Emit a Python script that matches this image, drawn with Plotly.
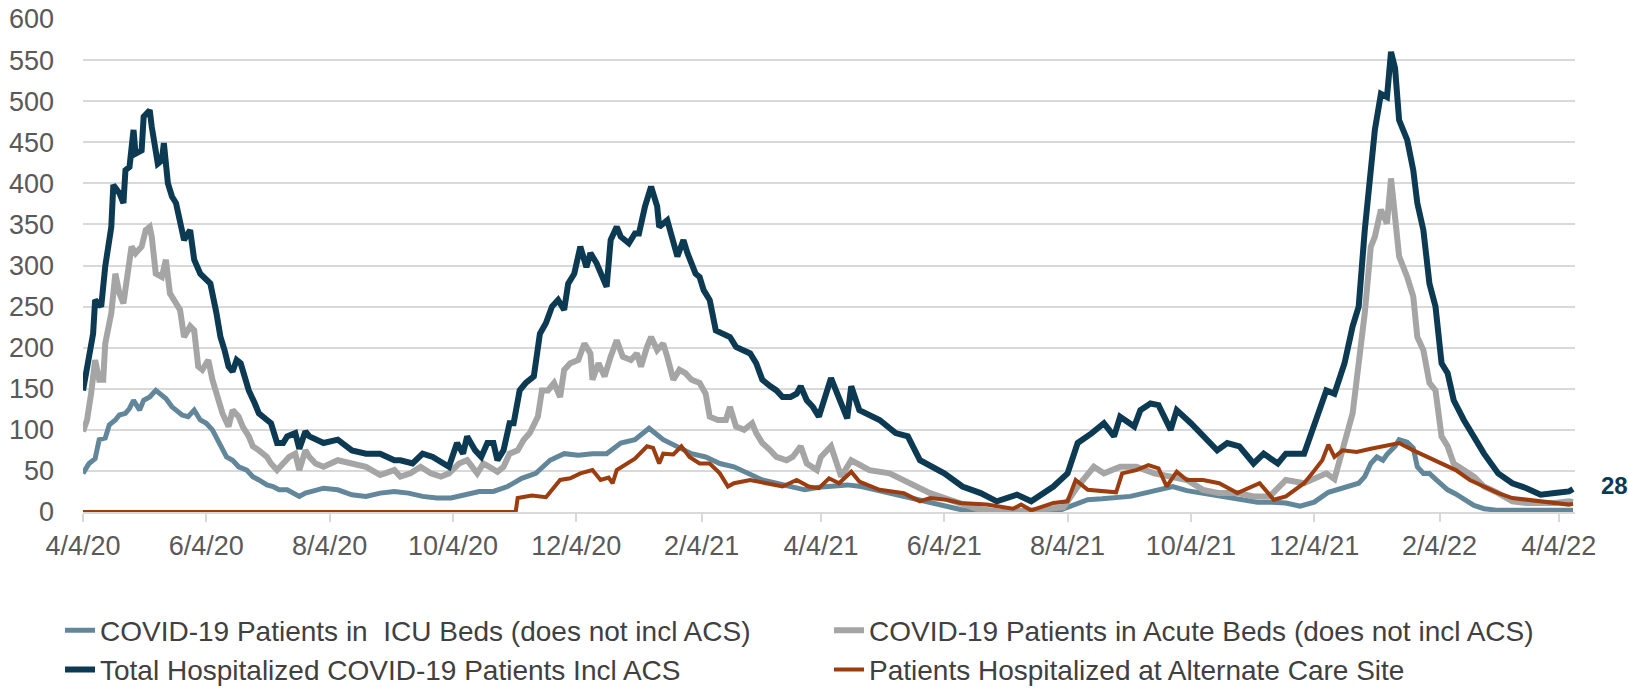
import pandas as pd
import plotly.graph_objects as go

# --- DATA ---
# every series: day offsets from 4/4/20 and the value read at that day
START_DATE = "2020-04-04"

icu_days = [0, 3, 6, 8, 11, 13, 16, 18, 21, 23, 25, 28, 30, 33, 36, 39, 41, 44, 46, 49,
            52, 55, 58, 61, 64, 68, 71, 74, 77, 81, 84, 87, 91, 94, 97, 101, 104, 107,
            110, 114, 119, 126, 133, 140, 147, 154, 161, 168, 175, 182, 189, 196, 203,
            210, 217, 224, 231, 238, 245, 252, 259, 266, 273, 280, 287, 294, 301, 308,
            315, 322, 329, 336, 343, 350, 357, 364, 371, 378, 385, 392, 399, 406, 413,
            420, 427, 434, 441, 448, 455, 462, 469, 476, 483, 490, 492, 497, 504, 511,
            518, 525, 532, 539, 546, 553, 560, 567, 574, 581, 588, 595, 602, 609, 616,
            623, 627, 631, 634, 637, 640, 643, 645, 647, 649, 651, 655, 658, 660, 663,
            666, 669, 672, 675, 679, 683, 688, 693, 700, 707, 714, 721, 728, 735, 737]
icu = [47, 59, 65, 88, 90, 106, 112, 118, 120, 126, 136, 124, 136, 140, 148, 142, 138, 128, 124, 118,
       116, 124, 112, 108, 100, 80, 67, 63, 55, 51, 43, 39, 33, 31, 27, 27, 23, 19,
       23, 25, 29, 27, 21, 19, 23, 25, 23, 19, 17, 17, 21, 25, 25,
       31, 41, 47, 63, 71, 69, 71, 71, 84, 88, 102, 88, 80, 71, 67,
       59, 55, 47, 39, 35, 31, 27, 30, 31, 33, 31, 27, 23, 19, 14,
       11, 6, 3, 1, 0, 0, 0, 0, 1, 2, 9, 11, 15, 16, 17,
       19, 23, 27, 31, 26, 23, 20, 17, 15, 12, 12, 11, 7, 12, 24,
       29, 31, 35, 43, 59, 67, 63, 70, 75, 80, 88, 85, 78, 55, 47,
       47, 40, 33, 27, 22, 15, 8, 4, 2, 2, 2, 2, 2, 2, 2]

acute_days = [0, 2, 4, 6, 8, 10, 11, 14, 16, 18, 20, 22, 24, 26, 29, 31, 33, 34, 36, 39,
              41, 43, 45, 48, 50, 53, 55, 57, 59, 62, 64, 67, 69, 72, 74, 77, 79, 82, 84,
              87, 91, 93, 96, 99, 102, 105, 107, 110, 112, 115, 119, 126, 133, 140, 147,
              154, 157, 162, 167, 172, 177, 181, 186, 190, 195, 198, 201, 205, 208, 211,
              215, 218, 221, 225, 227, 230, 233, 236, 238, 241, 245, 247, 248, 251, 252,
              255, 258, 261, 264, 267, 271, 274, 276, 279, 281, 284, 287, 289, 292, 295,
              298, 301, 305, 308, 310, 314, 318, 320, 323, 327, 331, 333, 336, 340, 343,
              348, 351, 355, 358, 363, 365, 370, 375, 380, 389, 399, 409, 419, 431, 442,
              455, 471, 485, 492, 500, 505, 513, 521, 530, 538, 546, 554, 562, 571, 579,
              587, 595, 604, 615, 619, 624, 628, 631, 634, 637, 639, 642, 645, 647, 649,
              651, 655, 658, 660, 663, 666, 669, 672, 675, 678, 683, 688, 693, 700, 707,
              714, 721, 728, 735, 737]
acute = [98, 112, 144, 185, 161, 161, 205, 242, 290, 266, 254, 286, 323, 315, 323, 343, 347, 335, 290, 286,
         307, 266, 258, 246, 213, 226, 221, 177, 173, 185, 161, 136, 120, 104, 124, 116, 104, 92, 80,
         75, 67, 59, 51, 59, 67, 71, 51, 75, 67, 59, 55, 63, 59, 55, 45,
         51, 43, 47, 55, 47, 43, 47, 59, 63, 47, 59, 55, 49, 55, 71,
         75, 88, 96, 116, 148, 148, 157, 140, 173, 181, 185, 197, 205, 193, 161,
         181, 165, 189, 209, 189, 185, 193, 177, 201, 213, 197, 205, 189, 161, 173,
         169, 161, 157, 144, 116, 112, 112, 128, 104, 100, 108, 96, 84, 75, 67,
         63, 67, 80, 59, 51, 67, 80, 43, 63, 51, 47, 35, 23, 13, 4,
         0, 2, 6, 31, 55, 47, 55, 55, 47, 43, 39, 27, 23, 23, 19,
         19, 39, 35, 47, 40, 88, 120, 181, 242, 323, 335, 368, 351, 406, 360,
         311, 286, 262, 213, 197, 157, 148, 92, 80, 59, 51, 43, 31, 23, 13,
         11, 11, 11, 13, 12]

total_days = [0, 2, 5, 6, 9, 11, 14, 15, 18, 20, 21, 23, 25, 26, 29, 30, 33, 34, 37, 39,
              40, 42, 44, 46, 48, 50, 53, 55, 58, 61, 63, 66, 68, 70, 72, 74, 76, 78, 80,
              82, 85, 87, 91, 93, 96, 99, 101, 105, 107, 110, 112, 115, 119, 126, 133, 140,
              147, 154, 157, 163, 168, 173, 178, 181, 185, 188, 190, 194, 197, 200, 203,
              205, 208, 211, 213, 216, 219, 223, 226, 229, 232, 235, 238, 240, 243, 246,
              249, 251, 254, 257, 259, 261, 264, 266, 270, 273, 275, 278, 281, 284, 285,
              289, 291, 294, 297, 299, 303, 305, 307, 310, 313, 316, 320, 323, 326, 330,
              333, 336, 340, 343, 346, 350, 353, 355, 358, 361, 364, 370, 378, 380, 384,
              394, 402, 408, 414, 426, 435, 444, 452, 462, 469, 480, 487, 492, 499, 505,
              510, 513, 520, 523, 528, 532, 538, 541, 548, 554, 561, 566, 572, 579, 584,
              591, 595, 604, 607, 615, 619, 624, 628, 631, 634, 637, 639, 642, 645, 647,
              649, 651, 655, 658, 660, 663, 666, 669, 672, 675, 678, 683, 688, 693, 700,
              707, 714, 721, 728, 735, 737]
total = [148, 173, 217, 258, 250, 299, 347, 398, 388, 376, 416, 420, 465, 436, 440, 481, 489, 469, 424, 428,
         449, 400, 384, 376, 355, 331, 343, 307, 290, 282, 278, 242, 213, 197, 177, 171, 185, 181, 165,
         148, 132, 120, 112, 108, 84, 84, 92, 96, 77, 98, 92, 88, 84, 88, 75, 71,
         71, 63, 63, 59, 71, 67, 59, 55, 84, 71, 92, 75, 67, 84, 84,
         63, 75, 108, 108, 148, 157, 165, 217, 230, 250, 258, 246, 278, 290, 323,
         298, 315, 303, 286, 274, 331, 347, 335, 327, 339, 339, 372, 396, 372, 347,
         355, 339, 311, 331, 315, 290, 286, 270, 258, 221, 217, 213, 201, 197, 193,
         181, 161, 153, 148, 140, 140, 144, 153, 136, 128, 116, 163, 114, 153, 124,
         112, 96, 92, 63, 47, 31, 23, 13, 21, 13, 31, 47, 84, 96, 108,
         92, 116, 104, 124, 132, 130, 100, 124, 108, 92, 75, 84, 80, 59, 71,
         59, 71, 71, 92, 148, 144, 181, 226, 250, 343, 416, 465, 509, 505, 560,
         540, 477, 453, 416, 376, 343, 278, 250, 181, 169, 136, 112, 92, 71, 47,
         35, 29, 21, 23, 25, 28]

# alternate care site series is flat zero until the site opens
acs_days = [0, 214, 215, 222, 229, 236, 241, 246, 252, 256, 260, 262, 264, 269, 273,
            279, 282, 285, 287, 292, 296, 300, 305, 310, 315, 319, 322, 330, 338, 346,
            353, 359, 364, 369, 374, 380, 384, 394, 406, 414, 419, 427, 434, 447, 460,
            464, 469, 480, 487, 491, 497, 504, 511, 514, 521, 527, 532, 536, 541, 546,
            554, 562, 571, 582, 589, 595, 604, 608, 613, 616, 619, 623, 630, 637, 644,
            651, 658, 665, 672, 679, 686, 693, 700, 707, 714, 721, 728, 735, 737]
acs = [0, 0, 17, 20, 18, 39, 41, 47, 51, 39, 42, 35, 51, 59, 65,
       80, 78, 59, 71, 70, 80, 67, 59, 59, 47, 31, 35, 39, 35, 31,
       39, 31, 29, 41, 35, 49, 37, 27, 23, 13, 17, 15, 11, 9, 4,
       9, 2, 11, 13, 39, 27, 25, 24, 47, 51, 57, 53, 31, 49, 39,
       39, 35, 23, 35, 15, 19, 35, 47, 63, 82, 67, 75, 73, 77, 80,
       84, 75, 67, 59, 51, 39, 31, 23, 17, 15, 13, 11, 9, 10]

tick_dates = ["2020-04-04", "2020-06-04", "2020-08-04", "2020-10-04", "2020-12-04",
              "2021-02-04", "2021-04-04", "2021-06-04", "2021-08-04", "2021-10-04",
              "2021-12-04", "2022-02-04", "2022-04-04"]
tick_text = ["4/4/20", "6/4/20", "8/4/20", "10/4/20", "12/4/20", "2/4/21", "4/4/21",
             "6/4/21", "8/4/21", "10/4/21", "12/4/21", "2/4/22", "4/4/22"]

names = ["COVID-19 Patients in  ICU Beds (does not incl ACS)",
         "COVID-19 Patients in Acute Beds (does not incl ACS)",
         "Total Hospitalized COVID-19 Patients Incl ACS",
         "Patients Hospitalized at Alternate Care Site"]

assert len(icu_days) == len(icu)
assert len(acute_days) == len(acute)
assert len(total_days) == len(total)
assert len(acs_days) == len(acs)

# --- ESTILO ---
FONT = "Liberation Sans, Arial, sans-serif"
COLORS = ["#62879a", "#a5a5a5", "#0c3a53", "#9c3d10"]
WIDTHS = [5, 6, 6, 4]
# la leyenda va en dos columnas: ICU/Total a la izquierda, Acute/ACS a la derecha
LEGEND_OF = ["legend", "legend2", "legend", "legend2"]

base = pd.Timestamp(START_DATE)


def to_dates(day_list):
    return base + pd.to_timedelta(day_list, unit="D")


series = [(icu_days, icu), (acute_days, acute), (total_days, total), (acs_days, acs)]

fig = go.Figure()
for name, (d, ys), color, width, leg in zip(names, series, COLORS, WIDTHS, LEGEND_OF):
    fig.add_trace(go.Scatter(x=to_dates(d), y=ys, mode="lines", name=name, legend=leg,
                             line=dict(color=color, width=width)))

# etiqueta del último valor
fig.add_annotation(x=to_dates(total_days)[-1], y=total[-1], text="<b>%d</b>" % total[-1],
                   showarrow=False, xanchor="left", xshift=26, yshift=3,
                   font=dict(family=FONT, size=24, color=COLORS[2]))

# yref="container" para que la leyenda no empuje el margen inferior
legend_style = dict(orientation="v", xanchor="left", yanchor="top",
                    yref="container", y=0.12,
                    tracegroupgap=0, bgcolor="rgba(0,0,0,0)",
                    font=dict(family=FONT, size=28, color="#404040"))

fig.update_layout(
    width=1628, height=688,
    margin=dict(l=83, r=53, t=19, b=176),
    plot_bgcolor="white", paper_bgcolor="white",
    font=dict(family=FONT, size=27, color="#595959"),
    showlegend=True,
    legend=dict(x=-0.0154, **legend_style),
    legend2=dict(x=0.5, **legend_style),
)
fig.update_xaxes(
    type="date", range=[base, base + pd.Timedelta(days=738)],
    tickvals=tick_dates, ticktext=tick_text, tickangle=0, automargin=False,
    showgrid=False, showline=True, linecolor="#d9d9d9", linewidth=2,
    ticks="outside", ticklen=8, tickwidth=2, tickcolor="#d9d9d9",
    ticklabelstandoff=1, zeroline=False,
)
fig.update_yaxes(
    range=[0, 600], dtick=50, showgrid=True, gridcolor="#d9d9d9", gridwidth=2,
    showline=False, zeroline=False, ticks="", ticklabelstandoff=28, automargin=False,
)

# sin margen del body para que la figura ocupe la ventana exacta
fig.write_html("out.html", config={"displayModeBar": False},
               post_script="document.body.style.margin='0px';")
